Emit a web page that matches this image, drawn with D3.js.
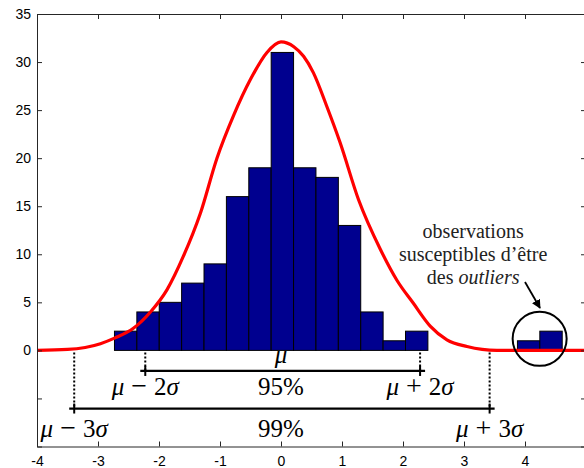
<!DOCTYPE html>
<html>
<head>
<meta charset="utf-8">
<script src="https://cdn.jsdelivr.net/npm/d3@7"></script>
<style>
body { margin: 0; background: #fff; }
svg { display: block; }
.tick text { font-family: "Liberation Sans", Arial, sans-serif; font-size: 14px; fill: #000; }
.axis path, .axis line { stroke: #262626; }
.math { font-family: "Liberation Serif", "DejaVu Serif", serif; font-size: 25px; fill: #000; }
.note { font-family: "Liberation Serif", "DejaVu Serif", serif; font-size: 20px; fill: #222; }
</style>
</head>
<body>
<div id="chart"></div>
<script>
// histogram (bin edges + counts)
const binEdges = [-2.73, -2.363, -1.996, -1.629, -1.262, -0.895, -0.528, -0.161, 0.206, 0.573,
    0.94, 1.307, 1.674, 2.041, 2.408, 2.775, 3.142, 3.509, 3.876, 4.243, 4.61];
const counts = [2, 4, 5, 7, 9, 16, 19, 31, 19, 18, 13, 4, 1, 2, 0, 0, 0, 0, 1, 2];

// red normal curve
const curveX = [-4, -3.5, -2.96, -2.72, -2.42, -2.14, -1.87, -1.6, -1.32, -1.05, -0.78, -0.5, -0.23, 0,
    0.21, 0.37, 0.53, 0.75, 0.97, 1.27, 1.63, 1.9, 2.17, 2.45, 2.72, 3.05, 3.54, 5];
const curveY = [0, 0.1, 0.7, 1.3, 2.3, 4.0, 6.3, 9.8, 14.3, 20, 24.4, 28.2, 31, 32.1,
    31.6, 30.6, 28.9, 25.4, 21.6, 15.7, 10.5, 7.3, 4.9, 2.5, 1.1, 0.4, 0, 0];

const xTicks = [-4, -3, -2, -1, 0, 1, 2, 3, 4, 5];
const yTicks = [-10, -5, 0, 5, 10, 15, 20, 25, 30, 35];

const mu = 0;
const twoSigma = [-2.225, 2.28];
const threeSigma = [-3.39, 3.42];
const noteLines = ["observations", "susceptibles d\u2019\u00eatre"];

const width = 584, height = 468;

const svg = d3.select("#chart").append("svg")
    .attr("width", width)
    .attr("height", height);

const x = d3.scaleLinear().domain([-4, 5]).range([37, 586]);
const y = d3.scaleLinear().domain([-10, 35]).range([446.5, 14]);

svg.append("clipPath").attr("id", "plot")
    .append("rect")
    .attr("x", x(-4)).attr("y", y(35))
    .attr("width", x(5) - x(-4)).attr("height", y(-10) - y(35));

const plot = svg.append("g").attr("clip-path", "url(#plot)");

// bars
const bins = counts.map((c, i) => ({ x0: binEdges[i], x1: binEdges[i + 1], n: c }))
    .filter(d => d.n > 0);

plot.selectAll(".bar")
    .data(bins)
    .enter().append("rect")
    .attr("class", "bar")
    .attr("x", d => x(d.x0))
    .attr("y", d => y(d.n))
    .attr("width", d => x(d.x1) - x(d.x0))
    .attr("height", d => y(0) - y(d.n))
    .attr("fill", "#00008f")
    .attr("stroke", "#000")
    .attr("stroke-width", 1);

// curve
const pts = curveX.map((v, i) => [v, curveY[i]]);
plot.append("path")
    .datum(pts)
    .attr("fill", "none")
    .attr("stroke", "#ff0000")
    .attr("stroke-width", 3.2)
    .attr("d", d3.line()
        .x(d => x(d[0]))
        .y(d => y(d[1]))
        .curve(d3.curveMonotoneX));

// sigma ranges
function sigmaRange(vals, lineY) {
    vals.forEach(v => {
        svg.append("line")
            .attr("x1", x(v)).attr("x2", x(v))
            .attr("y1", y(0) + 2).attr("y2", y(lineY))
            .attr("stroke", "#000")
            .attr("stroke-width", 2)
            .attr("stroke-dasharray", "2,2");
        svg.append("line")
            .attr("x1", x(v)).attr("x2", x(v))
            .attr("y1", y(lineY) - 5).attr("y2", y(lineY) + 5)
            .attr("stroke", "#000")
            .attr("stroke-width", 2);
    });
    svg.append("line")
        .attr("x1", x(vals[0]) - 5).attr("x2", x(vals[1]) + 5)
        .attr("y1", y(lineY)).attr("y2", y(lineY))
        .attr("stroke", "#000")
        .attr("stroke-width", 2.2);
}
sigmaRange(twoSigma, -2.14);
sigmaRange(threeSigma, -6.05);

function mathLabel(xv, yv, sign, k) {
    const t = svg.append("text")
        .attr("class", "math")
        .attr("x", x(xv))
        .attr("y", y(yv))
        .attr("text-anchor", "middle");
    t.append("tspan").attr("font-style", "italic").text("\u03bc");
    t.append("tspan").attr("dx", 7).attr("font-size", 28).text(sign);
    t.append("tspan").attr("dx", 7).text(k);
    t.append("tspan").attr("font-style", "italic").text("\u03c3");
}
mathLabel(twoSigma[0], -4.6, "\u2212", 2);
mathLabel(twoSigma[1], -4.6, "+", 2);
mathLabel(threeSigma[0], -9.0, "\u2212", 3);
mathLabel(threeSigma[1], -9.0, "+", 3);

svg.append("text")
    .attr("class", "math")
    .attr("x", x(mu)).attr("y", y(-1.3))
    .attr("text-anchor", "middle")
    .attr("font-style", "italic")
    .text("\u03bc");

svg.append("text").attr("class", "math")
    .attr("x", x(mu)).attr("y", y(-4.6))
    .attr("text-anchor", "middle")
    .text("95%");
svg.append("text").attr("class", "math")
    .attr("x", x(mu)).attr("y", y(-9.0))
    .attr("text-anchor", "middle")
    .text("99%");

// outliers note
const noteX = x(3.15);
noteLines.forEach((s, i) => {
    svg.append("text").attr("class", "note")
        .attr("x", noteX).attr("y", 238 + i * 23)
        .attr("text-anchor", "middle")
        .text(s);
});
const last = svg.append("text").attr("class", "note")
    .attr("x", noteX).attr("y", 284)
    .attr("text-anchor", "middle");
last.append("tspan").text("des ");
last.append("tspan").attr("font-style", "italic").text("outliers");

svg.append("defs").append("marker")
    .attr("id", "head")
    .attr("viewBox", "0 0 10 10")
    .attr("refX", 9).attr("refY", 5)
    .attr("markerWidth", 5).attr("markerHeight", 5)
    .attr("orient", "auto")
    .append("path").attr("d", "M0,0L10,5L0,10z").attr("fill", "#000");

svg.append("line")
    .attr("x1", 525).attr("y1", 282)
    .attr("x2", 540).attr("y2", 308)
    .attr("stroke", "#000")
    .attr("stroke-width", 1.8)
    .attr("marker-end", "url(#head)");

svg.append("circle")
    .attr("cx", x(4.24)).attr("cy", y(1.2))
    .attr("r", 27)
    .attr("fill", "none")
    .attr("stroke", "#000")
    .attr("stroke-width", 2);

// axes (ticks inside, box)
const fmt = d => d < 0 ? "-" + Math.abs(d) : String(d);

svg.append("g").attr("class", "axis")
    .attr("transform", `translate(0,${y(-10)})`)
    .call(d3.axisBottom(x).tickValues(xTicks).tickSize(-5).tickSizeOuter(0).tickPadding(10)
        .tickFormat(d => d < 5 ? fmt(d) : ""));
svg.append("g").attr("class", "axis")
    .attr("transform", `translate(0,${y(35)})`)
    .call(d3.axisTop(x).tickValues(xTicks).tickSize(-5).tickSizeOuter(0).tickFormat(""));
svg.append("g").attr("class", "axis")
    .attr("transform", `translate(${x(-4)},0)`)
    .call(d3.axisLeft(y).tickValues(yTicks).tickSize(-5).tickSizeOuter(0).tickPadding(6)
        .tickFormat(d => d >= 0 ? fmt(d) : ""));
svg.append("g").attr("class", "axis")
    .attr("transform", `translate(${x(5)},0)`)
    .call(d3.axisRight(y).tickValues(yTicks).tickSize(-5).tickSizeOuter(0).tickFormat(""));
</script>
</body>
</html>
